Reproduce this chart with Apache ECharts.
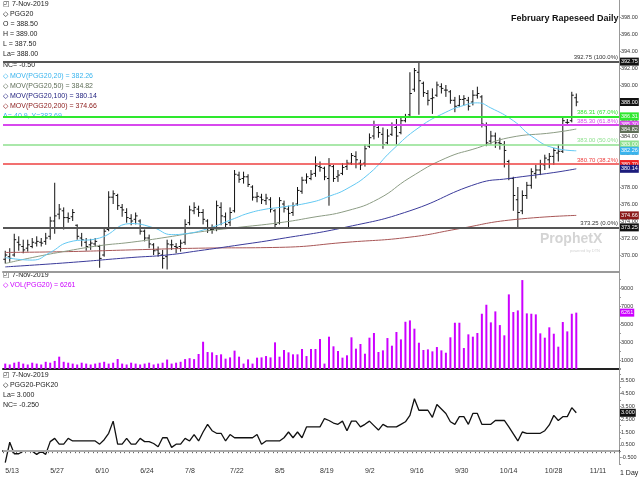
<!DOCTYPE html>
<html>
<head>
<meta charset="utf-8">
<script src="https://cdn.jsdelivr.net/npm/echarts@6/dist/echarts.min.js"></script>
<style>html,body{margin:0;padding:0;background:#fff}#draw{width:640px;height:480px}</style>
</head>
<body>
<div id="draw"></div>
<script>
// daily bars: [open, close, low, high]
var ohlc = [
[369.5,370.0,369.0,370.5],[369.8,369.6,369.2,370.8],[370.0,371.8,369.8,372.5],[371.5,371.2,370.5,372.2],
[371.0,370.6,370.2,371.8],[370.8,371.2,370.4,371.8],[371.0,371.5,370.8,372.0],[371.4,371.6,371.0,372.2],
[371.5,371.4,371.0,372.0],[371.6,372.0,371.2,372.6],[372.2,374.0,371.8,374.5],[374.0,374.6,372.5,378.5],
[374.8,375.4,374.2,376.0],[375.2,374.4,373.0,375.6],[374.4,374.3,373.8,375.0],[374.5,375.0,374.0,375.4],
[373.5,372.2,371.8,373.6],[372.0,371.8,371.0,372.6],[371.5,371.0,370.5,372.0],[371.2,371.4,370.6,371.9],
[371.3,371.6,371.0,372.0],[371.0,369.6,368.5,371.2],[370.0,372.8,369.8,373.2],[373.0,376.8,372.8,377.5],
[376.8,377.2,376.0,377.6],[377.0,375.8,375.3,377.2],[375.6,375.3,374.5,376.0],[375.0,374.4,373.8,375.5],
[374.3,374.0,373.5,374.8],[374.2,374.6,373.6,375.0],[374.0,372.8,372.4,374.2],[372.8,372.0,371.6,373.0],
[372.0,371.3,370.8,372.4],[371.2,370.5,370.0,371.4],[370.6,370.2,369.8,371.0],[370.0,369.6,368.4,370.6],
[369.8,371.3,368.3,371.8],[371.2,371.2,370.6,371.8],[371.0,370.9,370.2,371.4],[371.0,371.4,370.4,371.8],
[371.5,373.6,371.2,374.2],[373.8,375.3,373.5,375.8],[375.2,375.6,374.8,376.2],[375.4,375.0,374.5,375.8],
[375.0,374.2,373.6,375.4],[374.0,372.9,372.6,374.2],[373.0,373.0,372.5,373.6],[373.2,375.8,372.8,376.4],
[375.6,374.6,373.5,376.2],[374.5,373.6,373.2,375.0],[373.8,375.0,373.4,375.6],[375.2,379.5,375.0,380.0],
[379.4,378.9,378.5,379.8],[379.0,379.2,378.4,379.8],[379.2,378.3,378.0,379.5],[378.0,376.8,376.4,378.2],
[376.8,376.9,376.2,377.4],[376.8,376.5,376.0,377.2],[376.4,376.7,375.9,377.2],[376.5,375.4,375.0,376.8],
[375.2,373.6,373.2,375.4],[373.8,376.4,373.6,376.8],[376.0,375.5,375.0,376.4],[375.4,374.9,373.1,375.8],
[375.0,375.8,374.6,376.2],[376.0,377.6,375.8,378.0],[377.5,378.8,377.2,379.2],[378.8,379.2,378.4,379.6],
[379.0,379.5,378.8,380.0],[379.6,380.5,379.2,381.6],[380.4,380.3,379.8,381.0],[380.2,379.2,378.8,380.4],
[379.0,380.5,375.8,381.4],[380.4,379.0,378.6,380.6],[379.2,379.4,378.6,380.0],[379.6,380.3,379.4,380.8],
[380.4,380.8,380.0,381.2],[380.8,381.7,380.6,382.0],[381.6,381.2,380.2,382.2],[380.8,380.6,380.0,381.2],
[380.8,382.5,380.4,383.0],[382.8,383.8,382.6,384.3],[384.0,385.2,383.6,385.8],[385.0,384.4,383.8,385.4],
[384.2,383.0,382.5,385.0],[383.2,384.0,383.0,384.8],[384.2,385.3,384.0,385.6],[385.0,384.0,383.0,386.0],
[384.4,385.8,384.2,386.2],[385.8,386.3,385.6,386.6],[386.5,389.0,386.2,391.5],[389.5,391.7,389.2,392.0],
[391.5,390.5,386.5,392.75],[390.2,389.1,388.6,390.4],[389.0,388.2,387.6,389.4],[388.4,388.5,386.6,389.6],
[388.8,390.0,388.6,390.4],[389.8,389.6,389.0,390.2],[389.4,389.4,388.6,390.0],[389.2,388.2,387.8,389.4],
[388.2,387.5,386.8,388.6],[387.6,388.3,387.4,388.8],[388.3,388.4,387.6,388.8],[388.2,387.5,387.0,388.6],
[388.0,388.8,387.6,389.4],[388.8,389.0,388.4,389.8],[388.6,385.4,385.0,388.8],[385.2,383.2,382.8,385.6],
[383.4,384.0,383.0,384.6],[384.0,383.2,382.6,384.4],[383.2,383.1,382.4,383.8],[383.0,382.3,380.3,383.4],
[381.0,379.0,378.8,381.2],[379.0,377.0,375.2,379.2],[376.5,375.0,373.25,378.0],[375.2,377.0,374.8,377.6],
[377.0,378.2,376.6,378.6],[378.2,379.8,377.8,380.2],[379.6,380.0,379.0,380.6],[380.0,380.7,379.4,381.2],
[380.6,381.4,380.0,381.8],[381.2,381.6,380.2,382.0],[381.6,382.3,380.6,382.6],[382.0,382.2,381.0,383.0],
[382.2,385.8,382.0,386.2],[385.6,385.6,385.2,386.0],[385.8,388.8,385.6,389.2],[388.5,388.0,387.5,389.0]
];

var ma20 = [[0,369.7],[6,369.4],[10,370.3],[14,371.5],[21,372.0],[28,373.7],[33,373.2],[37,372.4],[40,372.5],[45,373.1],[51,374.3],[54,374.9],[58,375.4],[61,375.6],[68,376.2],[72,376.9],[76,377.8],[81,379.6],[86,382.3],[92,385.0],[98,386.8],[102,387.6],[105,387.9],[108,387.3],[113,385.8],[117,384.0],[122,382.6],[127,382.26]];
var ma50 = [[0,369.0],[6,369.7],[14,370.5],[21,371.1],[28,371.5],[36,372.1],[43,372.7],[51,373.2],[61,373.8],[68,374.4],[76,375.2],[83,376.6],[90,379.1],[98,381.4],[105,382.6],[112,383.8],[122,384.4],[127,384.82]];
var ma100 = [[0,368.6],[14,369.1],[28,369.7],[36,370.0],[43,370.5],[51,371.1],[61,371.9],[76,373.3],[90,375.2],[105,378.4],[112,379.0],[122,379.7],[127,380.14]];
var ma200 = [[0,370.3],[14,370.4],[28,370.6],[43,370.8],[61,370.9],[76,371.5],[90,372.1],[101,373.1],[112,374.1],[127,374.66]];

var volume = [
600,500,700,800,600,500,700,600,500,800,700,900,1370,800,700,600,500,700,600,500,600,700,800,600,700,1110,600,500,700,600,
500,600,700,500,600,700,1050,600,700,800,1100,1200,1100,
1670,3030,1890,1850,1550,1630,1150,1290,2040,1370,600,1070,600,1260,1290,1440,1290,2960,1370,2110,1850,1630,1630,2220,
1440,2220,2220,3330,600,3590,2520,2000,1260,1520,3520,2260,2780,1700,3480,4000,1890,2070,3440,2590,4110,3290,5250,5400,
4480,2920,2110,2180,1960,2440,2070,1810,3520,5140,5140,2330,3850,3590,4000,6140,7140,5180,6400,4880,3740,8290,6330,6510,
9880,6180,6140,6070,3960,3480,4630,3920,2480,5220,4180,6140,6261
];

var spread = [
-0.9,0.7,-0.2,-0.2,0.0,0.0,0.0,-0.25,0.0,-0.25,0.75,1.0,0.55,0.55,1.0,0.8,0.8,0.8,0.8,0.8,
0.8,0.55,0.9,1.4,2.35,0.55,0.55,1.0,0.55,0.55,1.0,0.75,0.75,0.6,0.35,1.05,1.05,0.3,0.55,0.55,
1.0,0.8,1.3,0.8,1.5,2.1,1.6,1.4,1.4,0.8,1.3,1.05,1.05,1.05,1.05,1.05,1.3,0.55,0.8,0.8,
0.8,0.8,1.05,1.5,1.05,1.5,1.05,1.9,1.9,1.9,1.9,2.55,2.4,2.2,2.1,2.35,1.6,2.35,2.35,1.9,
2.1,2.35,2.0,1.65,2.1,1.9,1.9,1.9,2.1,2.3,2.8,4.1,3.2,3.2,3.2,2.65,3.65,3.3,2.95,2.3,
2.1,2.7,2.7,2.1,2.95,2.95,2.1,2.1,2.1,2.4,2.4,2.4,1.9,1.35,0.8,1.5,1.4,1.4,1.4,1.4,
1.6,2.05,2.8,2.4,2.7,2.7,3.4,3.0
];

// fib levels: value, text, colour
var fibLevels = [392.75, 386.31, 385.30, 383.00, 380.70, 373.25];
var fibText = ['392.75 (100.0%)', '386.31 (67.0%)', '385.30 (61.8%)', '383.00 (50.0%)', '380.70 (38.2%)', '373.25 (0.0%)'];
var fibColors = ['#555555', '#2ee82e', '#d848ee', '#8ee08e', '#ee4040', '#555555'];
var fibTagColors = ['#111111', '#2ee82e', '#d848ee', '#8ee08e', '#ee2020', '#111111'];

var tagValues = [388.00, 384.82, 382.26, 380.14, 374.66];
var tagColors = ['#111111', '#5f6e58', '#38b4ee', '#1c1c7c', '#8a1818'];

// weekday categories
var dates = [];
var d = new Date(2019, 4, 13);
while (dates.length < 137) {
	if (d.getDay() != 0 && d.getDay() != 6) dates.push((d.getMonth() + 1) + '/' + d.getDate());
	d.setDate(d.getDate() + 1);
}

var myChart = echarts.init(document.getElementById('draw'));
var FONT = 'Liberation Sans';
var small = { fontSize: 5.5, fontFamily: FONT, color: '#333' };

function tag(v, text, bg) {
	return {
		yAxis: v, lineStyle: { color: 'rgba(0,0,0,0)', width: 0 },
		label: { show: true, position: 'end', formatter: text, backgroundColor: bg,
			color: '#fff', fontSize: 5.5, fontFamily: FONT, padding: [1, 1], distance: 1, opacity: 1 }
	};
}

var priceMarks = [];
fibLevels.forEach(function(v, i) {
	priceMarks.push({
		yAxis: v,
		lineStyle: { color: fibColors[i], width: (i == 3 || i == 4) ? 1.5 : 2, type: 'solid' },
		label: { show: true, position: 'insideEndTop', formatter: fibText[i], fontSize: 6, fontFamily: FONT,
			color: i == 0 || i == 5 ? '#333' : fibColors[i], distance: 1 }
	});
	priceMarks.push(tag(v, v.toFixed(2), fibTagColors[i]));
});
tagValues.forEach(function(v, i) {
	priceMarks.push(tag(v, v.toFixed(2), tagColors[i]));
});

function txt(x, y, s, c) {
	return { type: 'text', left: x, top: y, style: { text: s, fill: c || '#222', font: '7px ' + FONT } };
}

var legendTexts = [
	txt(3, 1, '◰ 7-Nov-2019'), txt(3, 11, '◇ PGG20'), txt(3, 21, 'O = 388.50'), txt(3, 31, 'H = 389.00'),
	txt(3, 41, 'L = 387.50'), txt(3, 51, 'La= 388.00'), txt(3, 62, 'NC= -0.50'),
	txt(3, 73, '◇ MOV(PGG20,20) = 382.26', '#38b4ee'), txt(3, 83, '◇ MOV(PGG20,50) = 384.82', '#5f6e58'),
	txt(3, 93, '◇ MOV(PGG20,100) = 380.14', '#1c1c7c'), txt(3, 103, '◇ MOV(PGG20,200) = 374.66', '#8a1818'),
	txt(3, 113, 'A=-40.9, Y=383.69', '#38b4ee'),
	txt(3, 272, '◰ 7-Nov-2019'), txt(3, 282, '◇ VOL(PGG20) = 6261', '#cc00ff'),
	txt(3, 372, '◰ 7-Nov-2019'), txt(3, 382, '◇ PGG20-PGK20'), txt(3, 392, 'La= 3.000'), txt(3, 402, 'NC= -0.250'),
	txt(620, 470, '1 Day'),
	{ type: 'text', left: 511, top: 14, style: { text: 'February Rapeseed Daily', fill: '#111', font: 'bold 9px ' + FONT } },
	{ type: 'text', left: 540, top: 232, style: { text: 'ProphetX', fill: '#d4d4d4', font: 'bold 14px ' + FONT } },
	{ type: 'text', left: 570, top: 249, style: { text: 'powered by DTN', fill: '#d4d4d4', font: '4px ' + FONT } }
];

var option = {
	animation: false,
	graphic: legendTexts,
	grid: [
		{ left: 3, right: 21, top: 0, height: 272, outerBoundsMode: 'none' },
		{ left: 3, right: 21, top: 270, height: 99, outerBoundsMode: 'none' },
		{ left: 3, right: 21, top: 368, height: 96, outerBoundsMode: 'none' }
	],
	xAxis: [0, 1, 2].map(function(g) {
		return {
			type: 'category', gridIndex: g, data: dates, boundaryGap: true,
			axisLine: { show: true, lineStyle: { color: g == 0 ? '#9a9a9a' : '#222', width: 2 } },
			axisTick: { show: g == 2, interval: 0, length: 2, lineStyle: { color: '#666' } },
			axisLabel: { show: g == 2, interval: function(i) { return i % 10 == 0; }, align: 'left',
				fontSize: 7, fontFamily: FONT, color: '#333', margin: 4 },
			splitLine: { show: false }
		};
	}),
	yAxis: [
		{ gridIndex: 0, position: 'right', min: 368, max: 400, interval: 2,
			axisLine: { show: true, lineStyle: { color: '#999' } }, axisTick: { show: true, length: 2 },
			axisLabel: Object.assign({ showMinLabel: false, showMaxLabel: false, margin: 2,
				formatter: function(v) { return v.toFixed(2); } }, small),
			splitLine: { show: false } },
		{ gridIndex: 1, position: 'right', min: 0, max: 11000, interval: 1000,
			axisLine: { show: true, lineStyle: { color: '#999' } }, axisTick: { show: true, length: 2 },
			axisLabel: Object.assign({ margin: 2, showMaxLabel: false,
				formatter: function(v) { return ((v / 1000) % 2 == 1 && v < 10000) ? String(v) : ''; } }, small),
			splitLine: { show: false } },
		{ gridIndex: 2, position: 'right', min: -1, max: 6.5, interval: 0.5,
			axisLine: { show: true, lineStyle: { color: '#999' } }, axisTick: { show: true, length: 2 },
			axisLabel: Object.assign({ margin: 2, formatter: function(v) {
				return (Math.abs(v * 2) % 2 == 1 && v < 6) ? v.toFixed(3) : ''; } }, small),
			splitLine: { show: false } }
	],
	series: [
		{ type: 'line', name: 'MA200', xAxisIndex: 0, yAxisIndex: 0, data: ma200, smooth: true, symbol: 'none',
			lineStyle: { color: '#a85656', width: 1 } },
		{ type: 'line', name: 'MA100', xAxisIndex: 0, yAxisIndex: 0, data: ma100, smooth: true, symbol: 'none',
			lineStyle: { color: '#3a3a9a', width: 1 } },
		{ type: 'line', name: 'MA50', xAxisIndex: 0, yAxisIndex: 0, data: ma50, smooth: true, symbol: 'none',
			lineStyle: { color: '#8c9c84', width: 1 } },
		{ type: 'line', name: 'MA20', xAxisIndex: 0, yAxisIndex: 0, data: ma20, smooth: true, symbol: 'none',
			lineStyle: { color: '#62c8f2', width: 1 },
			markLine: { silent: true, symbol: 'none', data: priceMarks } },
		{ type: 'custom', name: 'PGG20', xAxisIndex: 0, yAxisIndex: 0,
			data: ohlc.map(function(r, i) { return [i, r[0], r[1], r[2], r[3]]; }),
			encode: { x: 0, y: [1, 2, 3, 4] },
			renderItem: function(params, api) {
				var x = api.coord([api.value(0), api.value(1)])[0];
				var yo = api.coord([api.value(0), api.value(1)])[1];
				var yc = api.coord([api.value(0), api.value(2)])[1];
				var yl = api.coord([api.value(0), api.value(3)])[1];
				var yh = api.coord([api.value(0), api.value(4)])[1];
				var st = { stroke: '#111', lineWidth: 1 };
				return { type: 'group', children: [
					{ type: 'line', shape: { x1: x, y1: yh, x2: x, y2: yl }, style: st },
					{ type: 'line', shape: { x1: x - 2, y1: yo, x2: x, y2: yo }, style: st },
					{ type: 'line', shape: { x1: x, y1: yc, x2: x + 2, y2: yc }, style: st }
				] };
			} },
		{ type: 'bar', name: 'VOL', xAxisIndex: 1, yAxisIndex: 1, data: volume, barWidth: 2,
			itemStyle: { color: '#cc00ff' },
			markLine: { silent: true, symbol: 'none', data: [ tag(6261, '6261', '#cc00ff') ] } },
		{ type: 'line', name: 'Spread', xAxisIndex: 2, yAxisIndex: 2, data: spread, symbol: 'none',
			lineStyle: { color: '#111', width: 1.3 },
			markLine: { silent: true, symbol: 'none', data: [
				{ yAxis: 0, lineStyle: { color: '#aaa', width: 2, type: 'solid' }, label: { show: false } },
				tag(3.0, '3.000', '#111')
			] } }
	]
};
myChart.setOption(option);
</script>
</body>
</html>
